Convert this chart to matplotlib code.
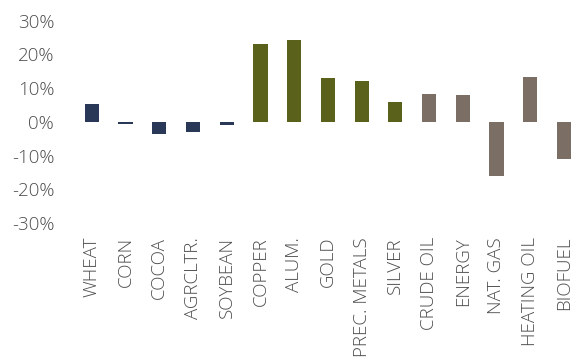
import matplotlib.pyplot as plt

categories = ['WHEAT', 'CORN', 'COCOA', 'AGRCLTR.', 'SOYBEAN', 'COPPER', 'ALUM.', 'GOLD',
              'PREC. METALS', 'SILVER', 'CRUDE OIL', 'ENERGY', 'NAT. GAS', 'HEATING OIL', 'BIOFUEL']
values = [5.2, -0.7, -3.6, -3.1, -1.0, 23.0, 24.2, 12.9, 12.0, 5.8, 8.2, 7.9, -16.0, 13.2, -11.0]
groups = ['agri'] * 5 + ['metal'] * 5 + ['energy'] * 5
group_colors = {'agri': '#283856', 'metal': '#5a611a', 'energy': '#7b6e65'}

plt.rcParams['font.family'] = ['Open Sans', 'DejaVu Sans']

fig = plt.figure(figsize=(5.74, 3.6), dpi=100)
ax = fig.add_axes([75 / 574, 1 - 223 / 360, 1 - 75 / 574, (223 - 20.7) / 360])

x = list(range(len(categories)))
ax.bar(x, values, width=0.42, color=[group_colors[g] for g in groups])

ax.set_xlim(-0.5, 14.3)
ax.set_ylim(-30, 30)
ax.set_yticks([-30, -20, -10, 0, 10, 20, 30])
ax.set_yticklabels([f'{v}%' for v in [-30, -20, -10, 0, 10, 20, 30]])
ax.set_xticks(x)
ax.set_xticklabels(categories, rotation=90)

for s in ax.spines.values():
    s.set_visible(False)
ax.tick_params(axis='both', length=0, colors='#4d4d4d', labelsize=13.5)
ax.tick_params(axis='y', pad=15)
ax.tick_params(axis='x', pad=10)
for lab in ax.get_xticklabels() + ax.get_yticklabels():
    lab.set_fontweight('light')

fig.savefig('out.png', dpi=100)
